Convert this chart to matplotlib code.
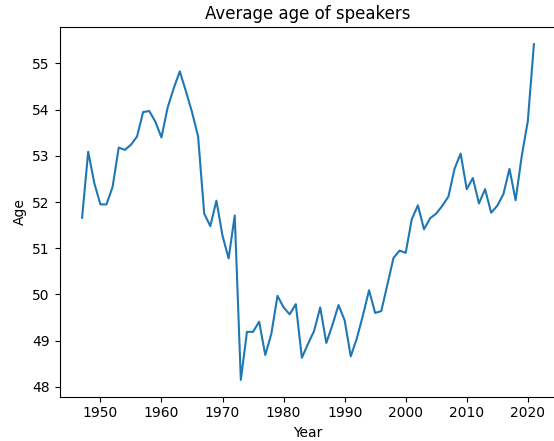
import matplotlib
matplotlib.use("Agg")
import matplotlib.pyplot as plt

years = list(range(1947, 2022))
ages = [
    51.66, 53.09, 52.41, 51.95, 51.95, 52.33, 53.18, 53.13, 53.24, 53.42,
    53.95, 53.97, 53.74, 53.40, 54.04, 54.46, 54.83, 54.40, 53.95, 53.42,
    51.75, 51.48, 52.03, 51.27, 50.78, 51.71, 48.15, 49.19, 49.19, 49.41,
    48.69, 49.15, 49.97, 49.72, 49.57, 49.79, 48.63, 48.93, 49.21, 49.72,
    48.95, 49.34, 49.77, 49.44, 48.66, 49.05, 49.55, 50.09, 49.60, 49.64,
    50.21, 50.79, 50.95, 50.90, 51.63, 51.93, 51.41, 51.65, 51.75, 51.92,
    52.12, 52.72, 53.05, 52.28, 52.52, 51.97, 52.28, 51.77, 51.92, 52.17,
    52.72, 52.04, 52.99, 53.75, 55.42,
]

W, H = 554, 441
fig = plt.figure(figsize=(W / 100, H / 100), dpi=100)
left, right, top, bottom = 59.5, 556.5, 27.3, 396.7
ax = fig.add_axes([left / W, (H - bottom) / H, (right - left) / W, (bottom - top) / H])
ax.plot(years, ages, color="#1f77b4", linewidth=1.5)
ax.spines["right"].set_visible(False)
ax.set_title("Average age of speakers")
ax.set_xlabel("Year")
ax.set_ylabel("Age")
fig.savefig("out.png", dpi=100)
